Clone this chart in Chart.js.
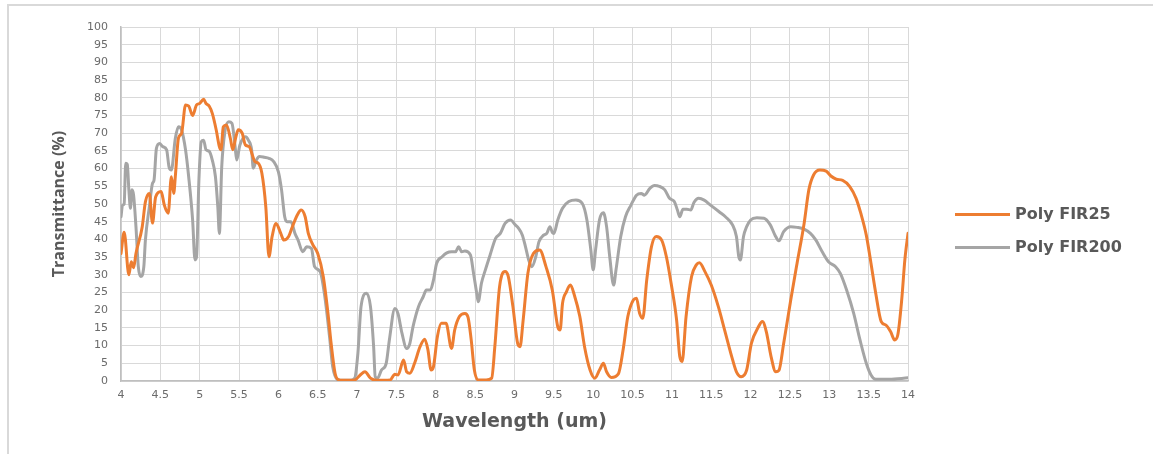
<!DOCTYPE html>
<html><head><meta charset="utf-8">
<script src="https://cdn.jsdelivr.net/npm/chart.js@4.4.1/dist/chart.umd.min.js"></script>
<style>
html,body{margin:0;padding:0;background:#fff;width:1153px;height:454px;overflow:hidden;}
#frame{position:absolute;left:7px;top:4px;width:1146px;height:450px;border-top:2px solid #d9d9d9;border-left:2px solid #d9d9d9;box-sizing:border-box;}
#wrap{position:absolute;left:0;top:0;width:1153px;height:454px;}
.legline{position:absolute;left:955px;width:55px;height:3px;}
.legtxt{position:absolute;left:1015px;font-family:'DejaVu Sans',sans-serif;font-weight:bold;font-size:16px;color:#595959;line-height:20px;white-space:nowrap;}
</style></head>
<body>
<div id="frame"></div>
<div id="wrap"><canvas id="c" width="1153" height="454"></canvas></div>
<div class="legline" style="top:213px;background:#ED7D31"></div>
<div class="legtxt" style="top:204px">Poly FIR25</div>
<div class="legline" style="top:246px;background:#A5A5A5"></div>
<div class="legtxt" style="top:237px">Poly FIR200</div>
<script>
const seriesNames = ['Poly FIR25', 'Poly FIR200'];
const xTickValues = [4,4.5,5,5.5,6,6.5,7,7.5,8,8.5,9,9.5,10,10.5,11,11.5,12,12.5,13,13.5,14];
const yTickValues = [0,5,10,15,20,25,30,35,40,45,50,55,60,65,70,75,80,85,90,95,100];

const fir25Wavelength = [4.00,4.04,4.10,4.13,4.16,4.19,4.27,4.31,4.36,4.40,4.44,4.51,4.55,4.60,4.64,4.67,4.69,4.73,4.77,4.82,4.86,4.91,4.96,5.00,5.05,5.08,5.12,5.16,5.21,5.25,5.27,5.30,5.34,5.39,5.42,5.46,5.49,5.54,5.58,5.63,5.67,5.70,5.74,5.79,5.84,5.88,5.92,5.97,6.03,6.07,6.13,6.17,6.24,6.29,6.34,6.38,6.44,6.50,6.57,6.63,6.67,6.72,6.76,6.82,6.97,7.04,7.10,7.17,7.25,7.42,7.48,7.52,7.59,7.63,7.67,7.73,7.80,7.86,7.90,7.94,7.97,8.02,8.07,8.13,8.20,8.24,8.30,8.37,8.41,8.45,8.49,8.54,8.64,8.71,8.75,8.81,8.88,8.92,8.98,9.04,9.07,9.11,9.17,9.24,9.32,9.40,9.48,9.55,9.58,9.61,9.66,9.71,9.76,9.83,9.89,9.96,10.02,10.08,10.13,10.17,10.23,10.32,10.38,10.44,10.51,10.55,10.59,10.63,10.68,10.74,10.80,10.87,10.93,10.99,11.06,11.10,11.13,11.18,11.25,11.31,11.35,11.42,11.50,11.59,11.67,11.76,11.82,11.88,11.95,12.01,12.10,12.15,12.20,12.26,12.32,12.36,12.42,12.51,12.59,12.68,12.74,12.80,12.88,12.96,13.02,13.09,13.17,13.26,13.34,13.40,13.47,13.53,13.59,13.66,13.72,13.78,13.83,13.87,13.92,13.96,14.00];
const fir25Transmittance = [36,42,30,33.7,32,36,43.6,50.6,53,44.6,52,53.5,49.7,47.4,57.7,53,57.7,68.6,70,78,77.7,75,78,78.4,79.6,78.4,77.7,75.6,70.9,66.2,65.3,71.8,72.3,68.5,65.3,69,71,70,66.7,66.2,63.8,62,61.6,58.7,49.2,35.1,40.8,44.5,41.7,39.8,40.8,43.1,46.9,48.3,46.4,41.7,38.4,36,29.5,19.1,10.6,2.2,0.4,0.2,0.3,1.7,2.6,0.8,0.2,0.3,1.9,1.7,5.9,2.6,2.2,5,9.7,11.8,8.8,3.1,4,12.5,16.3,16.3,9.2,14.4,18.2,19.1,18,11.6,3.1,0.3,0.3,0.8,9.7,26.6,30.9,29.6,21,10.6,9.7,17.2,30.4,36,37,32.3,25.7,15.3,14.4,21.9,25.2,27.1,24.3,18.2,9.7,3.1,0.8,3.1,5,2.6,1,2,8.8,18.2,22.9,23.4,19.1,17.7,28.5,37.9,40.8,39.8,35.1,27.6,17.2,6.9,5.5,18.2,29.5,32.8,33.4,30.9,27.1,21,14.4,6.9,2.6,1.2,3.1,10.6,15.3,16.8,13.9,6.9,2.6,3,10.6,22.9,33.2,44.5,54,58.2,59.6,59.3,57.9,57,56.7,54.9,51.6,47.4,41.2,33.2,24.8,16.8,15.8,13.9,11.6,13,22.9,34.2,41.7];

const fir200Wavelength = [4.00,4.02,4.04,4.06,4.08,4.10,4.12,4.14,4.16,4.19,4.22,4.25,4.29,4.31,4.36,4.40,4.42,4.45,4.49,4.53,4.58,4.61,4.64,4.69,4.73,4.77,4.82,4.86,4.91,4.94,4.96,4.99,5.02,5.05,5.08,5.12,5.16,5.20,5.23,5.25,5.28,5.32,5.37,5.41,5.45,5.47,5.51,5.58,5.62,5.66,5.68,5.72,5.76,5.82,5.88,5.94,6.00,6.04,6.08,6.11,6.16,6.21,6.25,6.31,6.36,6.42,6.46,6.53,6.59,6.65,6.69,6.76,6.91,6.97,7.01,7.05,7.12,7.17,7.21,7.23,7.26,7.31,7.37,7.41,7.48,7.52,7.57,7.63,7.67,7.71,7.78,7.84,7.88,7.93,7.97,8.01,8.08,8.14,8.20,8.25,8.29,8.33,8.37,8.44,8.48,8.52,8.54,8.58,8.63,8.69,8.76,8.82,8.88,8.95,9.01,9.05,9.10,9.14,9.18,9.22,9.27,9.31,9.37,9.41,9.45,9.48,9.50,9.55,9.61,9.69,9.78,9.86,9.92,9.97,10.00,10.03,10.08,10.13,10.17,10.21,10.26,10.29,10.35,10.41,10.48,10.55,10.61,10.65,10.72,10.78,10.84,10.91,10.97,11.03,11.07,11.10,11.14,11.19,11.24,11.28,11.34,11.41,11.49,11.60,11.68,11.77,11.82,11.85,11.87,11.91,11.95,12.00,12.08,12.17,12.25,12.31,12.36,12.42,12.51,12.59,12.68,12.76,12.83,12.91,12.99,13.08,13.14,13.22,13.31,13.39,13.47,13.53,13.59,13.76,14.00];
const fir200Transmittance = [46.4,49.7,50,61.5,61.2,54,48.8,54,52.5,43.6,32.3,29.5,32.3,39.8,49.2,55.8,56.8,65.7,67.1,66.2,65.3,60.5,59.6,68.5,71.8,70.9,65.3,57.7,45.5,34.2,35,56.8,67.6,68,65.3,64.9,62.4,57.7,49.2,41.7,60.5,70.4,73.2,72.8,66.2,62.4,66.6,69,68,65.3,60.1,62.4,63.4,63.2,62.9,62,59.1,54,46.4,45,45,41.7,39.8,36.5,37.9,37.4,32.3,30.9,23.8,12.5,4,0.3,0.2,0.8,7.8,21,24.8,21,9.7,1.2,0.8,3.1,5,11.6,20.5,19,13.5,9.2,10.6,15.3,21,23.8,25.7,25.7,28.5,33.2,35.1,36.2,36.5,36.5,37.9,36.5,36.7,35.6,30.4,24.8,22.4,27.6,31.4,35.6,40.3,41.7,44.5,45.5,44.1,43.2,41.2,37.9,34.2,32.3,35.1,39.3,41.2,41.7,43.6,42,41.7,45.5,48.8,50.7,51.1,50.2,45.5,37,31.4,37,45.5,47.5,43.6,35.1,27.1,31.4,40.8,46.4,49.7,52.5,53,52.5,54.4,55.2,55,54,51.6,50.7,48.3,46.4,48.5,48.5,48.3,50.4,51.6,51.1,49.7,47.8,46.4,44.1,40.8,35.1,34.2,40.8,43.6,45.5,46.1,46,44.1,41.2,39.6,42.2,43.6,43.4,42.9,41.7,39.8,36.5,33.7,32.3,30.4,25.7,19.1,11.6,5,1.7,0.5,0.5,0.9];

const toPoints = (xs, ys) => xs.map((x, i) => ({x: x, y: ys[i]}));

const tickFont = {family: 'DejaVu Sans', size: 11};
const tickColor = '#6b6b6b';

new Chart(document.getElementById('c'), {
  type: 'line',
  data: {
    datasets: [
      {label: seriesNames[0], data: toPoints(fir25Wavelength, fir25Transmittance), borderColor: '#ED7D31', backgroundColor: '#ED7D31'},
      {label: seriesNames[1], data: toPoints(fir200Wavelength, fir200Transmittance), borderColor: '#A5A5A5', backgroundColor: '#A5A5A5'}
    ]
  },
  options: {
    responsive: false,
    animation: false,
    devicePixelRatio: 1,
    layout: {padding: {left: 0, right: 245, top: 27, bottom: 0}},
    plugins: {legend: {display: false}, tooltip: {enabled: false}},
    elements: {
      point: {radius: 0},
      line: {borderWidth: 3, cubicInterpolationMode: 'monotone', borderCapStyle: 'round', borderJoinStyle: 'round'}
    },
    scales: {
      x: {
        type: 'linear', min: 4, max: 14,
        afterBuildTicks: s => { s.ticks = xTickValues.map(v => ({value: v})); },
        ticks: {autoSkip: false, maxRotation: 0, padding: 8, color: tickColor, font: tickFont, callback: v => String(v)},
        grid: {color: '#d9d9d9', lineWidth: 1, drawTicks: false},
        border: {color: '#bfbfbf', width: 1.5},
        title: {display: true, text: 'Wavelength (um)', color: '#595959', font: {family: 'DejaVu Sans', weight: 'bold', size: 19}, padding: {top: 0, bottom: 21}},
        afterFit: s => { s.height = 73; }
      },
      y: {
        min: 0, max: 100,
        afterBuildTicks: s => { s.ticks = yTickValues.map(v => ({value: v})); },
        ticks: {autoSkip: false, padding: 13, color: tickColor, font: tickFont, callback: v => String(v)},
        grid: {color: '#d9d9d9', lineWidth: 1, drawTicks: false},
        border: {color: '#bfbfbf', width: 1.5},
        title: {display: true, text: 'Transmittance (%)', color: '#595959', font: {family: 'Open Sans', weight: 'bold', size: 16}, padding: {top: 50, bottom: 0}},
        afterFit: s => { s.width = 121; }
      }
    }
  }
});
</script>
</body></html>
